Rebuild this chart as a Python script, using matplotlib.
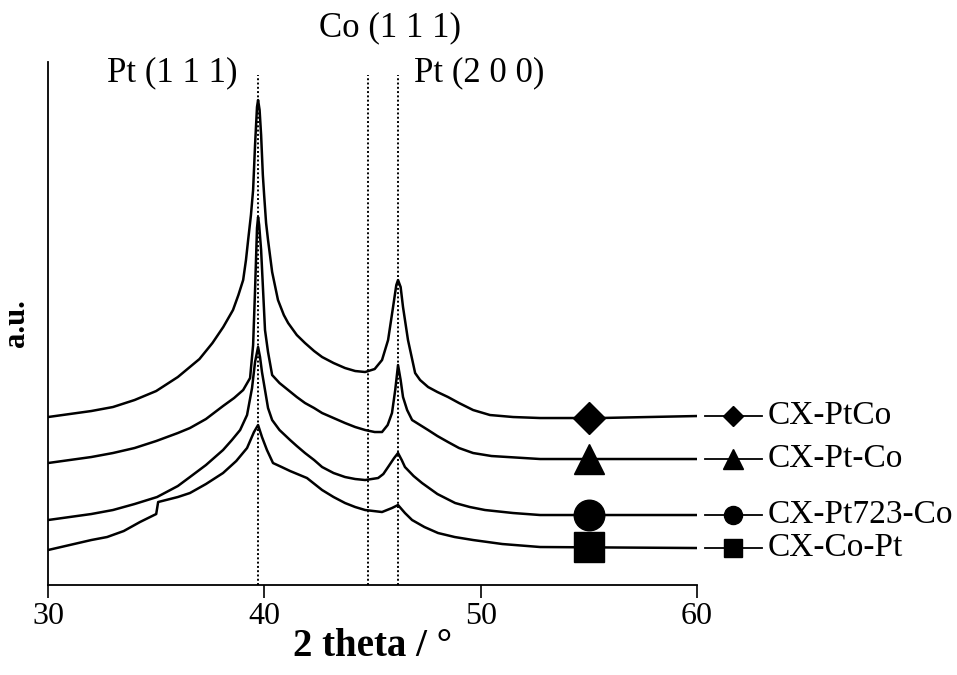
import numpy as np
import matplotlib
matplotlib.use("Agg")
import matplotlib.pyplot as plt

plt.rcParams['font.family'] = ['Liberation Serif', 'DejaVu Serif']

# ---- data (2 theta in degrees, intensity in a.u., curves offset as in the figure) ----
x_ptco = [30.0, 31.0, 32.0, 33.0, 34.0, 35.0, 36.0, 37.0, 37.6, 38.1, 38.55, 38.8, 39.02,
          39.15, 39.25, 39.38, 39.48, 39.57, 39.66, 39.71, 39.78, 39.85, 39.93, 39.99, 40.08,
          40.17, 40.36, 40.63, 40.9, 41.1, 41.5, 41.88, 42.3, 42.67, 43.2, 43.73, 44.2, 44.66,
          45.1, 45.44, 45.72, 45.95, 46.1, 46.18, 46.3, 46.41, 46.64, 46.97, 47.2, 47.57, 48.0,
          48.49, 49.0, 49.65, 50.43, 51.5, 52.75, 55.5, 60.0]
y_ptco = [168, 171, 174, 178, 185, 194, 208, 226, 242, 258, 275, 290, 305,
          325, 345, 370, 395, 440, 478, 485, 475, 450, 410, 390, 362,
          345, 313, 285, 270, 262, 250, 242, 234, 228, 222, 217, 214, 213,
          216, 225, 245, 278, 300, 305, 298, 278, 245, 212, 205, 198, 193,
          188, 182, 175, 170, 168, 167, 167, 169]

x_pt_co = [30.0, 31.0, 32.0, 33.0, 34.0, 35.0, 36.0, 36.56, 37.3, 38.09, 38.6, 39.02, 39.34,
           39.48, 39.57, 39.66, 39.71, 39.76, 39.85, 39.94, 40.03, 40.17, 40.36, 40.7, 41.1,
           41.5, 41.88, 42.3, 42.67, 43.2, 43.73, 44.2, 44.66, 45.1, 45.44, 45.7, 45.9, 46.05,
           46.18, 46.3, 46.41, 46.6, 46.83, 47.2, 47.57, 48.0, 48.49, 49.0, 49.65, 50.5, 52.75, 60.0]
y_pt_co = [122, 125, 128, 132, 137, 144, 152, 157, 166, 179, 187, 195, 207,
           240, 295, 357, 368, 360, 335, 295, 255, 233, 210, 202, 195,
           188, 182, 177, 172, 167, 162, 158, 155, 153, 153, 160, 172, 195,
           220, 205, 188, 175, 165, 160, 155, 149, 143, 137, 132, 129, 126, 126]

x_pt723 = [30.0, 31.0, 32.0, 33.0, 34.0, 35.04, 36.0, 36.56, 37.3, 38.09, 38.5, 38.88, 39.2,
           39.43, 39.57, 39.71, 39.8, 39.89, 40.03, 40.17, 40.36, 40.7, 41.19, 41.5, 41.88,
           42.3, 42.67, 43.2, 43.73, 44.2, 44.66, 45.26, 45.5, 45.72, 46.0, 46.18, 46.35, 46.5,
           46.9, 47.29, 48.0, 48.82, 49.5, 50.2, 51.5, 52.75, 60.0]
y_pt723 = [65, 68, 71, 75, 81, 88, 99, 108, 120, 135, 145, 155, 170,
           197, 223, 238, 228, 213, 195, 177, 165, 155, 145, 139, 132,
           125, 118, 112, 108, 106, 105, 107, 111, 118, 127, 132, 125, 118,
           109, 102, 91, 82, 78, 75, 72, 70, 70]

x_copt = [30.0, 31.0, 32.0, 32.73, 33.5, 34.25, 35.0, 35.09, 36.0, 36.56, 37.3, 38.09, 38.7,
          39.2, 39.52, 39.71, 39.89, 40.12, 40.4, 40.8, 41.19, 41.97, 42.67, 43.2, 43.73,
          44.2, 44.66, 45.44, 45.9, 46.18, 46.5, 46.83, 47.4, 48.03, 48.8, 49.65, 51.0, 52.75, 60.0]
y_copt = [35, 40, 45, 48, 54, 63, 71, 83, 88, 92, 101, 112, 124,
          137, 153, 160, 148, 135, 122, 118, 114, 107, 95, 88, 82,
          78, 75, 73, 77, 80, 72, 65, 58, 52, 48, 45, 41, 38, 37]

series_names = ["CX-PtCo", "CX-Pt-Co", "CX-Pt723-Co", "CX-Co-Pt"]
series_x = [x_ptco, x_pt_co, x_pt723, x_copt]
series_y = [y_ptco, y_pt_co, y_pt723, y_copt]
series_markers = ["D", "^", "o", "s"]

ref_lines = [39.72, 44.8, 46.2]
ref_labels = ["Pt (1 1 1)", "Co (1 1 1)", "Pt (2 0 0)"]
marker_x = 55.0
x_ticks = [30, 40, 50, 60]

# ---- figure ----
fig = plt.figure(figsize=(9.57, 6.75), dpi=100)
ax = fig.add_axes([0.0502, 0.1333, 0.6781, 0.7748])

big_ms = {"D": 16, "^": 22, "o": 22, "s": 22}
leg_ms = {"D": 10, "^": 14, "o": 13, "s": 13}

for name, xs, ys, m in zip(series_names, series_x, series_y, series_markers):
    ax.plot(xs, ys, color="black", lw=1.8)
    ax.plot([marker_x], [np.interp(marker_x, xs, ys)], marker=m, color="black",
            ms=big_ms[m], linestyle="none")
    ly = ys[-1]
    ax.plot([60.37, 63.0], [ly, ly], color="black", lw=1.3, clip_on=False)
    ax.plot([61.68], [ly], marker=m, color="black", ms=leg_ms[m], clip_on=False)
    ax.text(63.25, ly, name, fontsize=24, va="center", ha="left")

for xv in ref_lines:
    ax.plot([xv, xv], [0, 510], color="black", lw=1.4, linestyle=(0, (1, 1.2)))

ax.text(35.75, 512, ref_labels[0], fontsize=25, ha="center", va="center")
ax.text(45.8, 557, ref_labels[1], fontsize=25, ha="center", va="center")
ax.text(49.95, 512, ref_labels[2], fontsize=25, ha="center", va="center")

ax.set_xlim(30, 60)
ax.set_ylim(0, 523)
ax.set_xticks(x_ticks)
ax.set_yticks([])
ax.tick_params(axis="x", direction="out", length=9, width=1.2, labelsize=23, pad=3)
for s in ["top", "right"]:
    ax.spines[s].set_visible(False)
for s in ["left", "bottom"]:
    ax.spines[s].set_linewidth(1.3)

ax.set_xlabel("2 theta / °", fontsize=28, fontweight="bold", labelpad=-2)
ax.set_ylabel("a.u.", fontsize=22, fontweight="bold", labelpad=12)

fig.savefig("out.png", dpi=100)
